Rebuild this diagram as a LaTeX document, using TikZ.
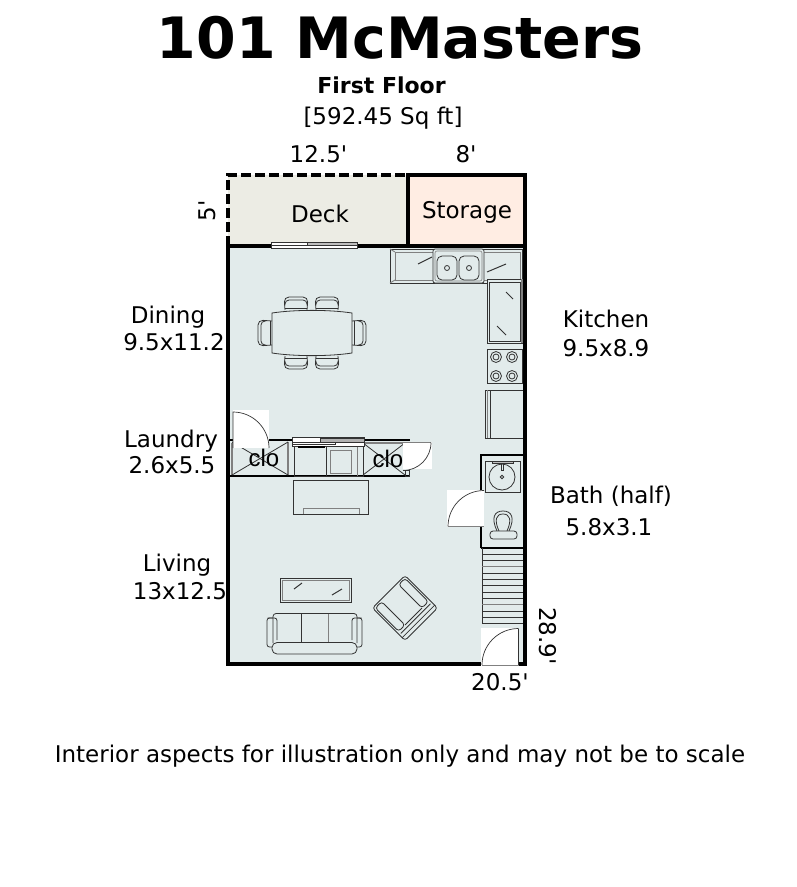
\documentclass[tikz,border=0pt]{standalone}
\usepackage{fontspec}
\setmainfont{DejaVu Sans}[Ligatures=TeXOff]
\newfontfamily\clofont{Liberation Sans}
\definecolor{floorc}{HTML}{E2EBEB}
\definecolor{deckc}{HTML}{ECECE4}
\definecolor{storec}{HTML}{FFEDE3}
\definecolor{furnc}{HTML}{333333}
\tikzset{
  wall/.style={black,line width=3.5pt},
  lwall/.style={black,line width=2.2pt},
  furn/.style={furnc,line width=0.8pt},
  furng/.style={gray,line width=0.9pt},
  glint/.style={furnc,line width=1pt},
  doorfill/.style={fill=white,draw=none},
  doorline/.style={furnc,line width=0.7pt},
  label/.style={font=\fontsize{23}{27}\selectfont,text=black,anchor=base,inner sep=0pt},
  clolabel/.style={font=\clofont\fontsize{24}{28}\selectfont,text=black,anchor=base,inner sep=0pt},
}
\begin{document}
\begin{tikzpicture}[x=1pt,y=-1pt]
\useasboundingbox (0,0) rectangle (796,887);
\fill[white] (0,0) rectangle (796,887);
% rooms
\fill[floorc] (228,246) rectangle (525,664);
\fill[deckc] (228,175) rectangle (408,246);
\fill[storec] (408,175) rectangle (525,246);
\draw[wall,dash pattern=on 10pt off 4pt] (228,246) -- (228,175) -- (408,175);
\draw[wall] (228,246) -- (525,246);
\draw[wall] (408,246) -- (408,175) -- (525,175) -- (525,664) -- (228,664) -- (228,246);
% deck slider
\draw[doorfill] (271,242) rectangle (357,248);
\draw[furn] (271,242) rectangle (357,248);
\draw[furn,fill=gray!50] (307,242.5) rectangle (357,245);
\draw[furn] (271,245) -- (321,245);
% kitchen counters
\draw[furn] (390,249) rectangle (522,283);
\draw[furng] (395,252) -- (520,252) -- (520,280) -- (395,280) -- cycle;
\draw[furng] (390,249) -- (395,252);
\draw[furng] (390,283) -- (395,280);
\draw[furn,rounded corners=2pt,fill=floorc] (433,249) rectangle (484,283);
\draw[furng,line width=0.6pt,rounded corners=2pt] (435,251) rectangle (482,281);
\draw[furn,rounded corners=5pt] (437,256) rectangle (457,280);
\draw[furn,rounded corners=5pt] (459,256) rectangle (479,280);
\draw[furn] (447,268) circle (2.5);
\draw[furn] (469,268) circle (2.5);
\draw[glint] (418,264) -- (432,257);
\draw[glint] (487,272) -- (506,264);
\draw[furn,fill=floorc] (487,279) rectangle (522,343);
\draw[furn] (489,282) rectangle (520,341);
\draw[furng,line width=1.5pt] (522,279) -- (522,343);
\draw[glint] (506,292) -- (513,299);
\draw[glint] (497,326) -- (506,335);
% stove
\draw[furn] (487,349) rectangle (522,383);
\draw[furn] (496,357) circle (5.5);
\draw[furn] (496,357) circle (3);
\draw[furn] (512,357) circle (5.5);
\draw[furn] (512,357) circle (3);
\draw[furn] (496,376) circle (5.5);
\draw[furn] (496,376) circle (3);
\draw[furn] (512,376) circle (5.5);
\draw[furn] (512,376) circle (3);
% fridge
\draw[furn] (523,390) -- (485,390) -- (485,438) -- (523,438);
\draw[furn] (490,390) -- (490,438);
\draw[furng] (487,390) -- (487,438);
% dining table
\draw[furn] (272,313) .. controls (295,309.5) and (329,309.5) .. (352,313) -- (352,353) .. controls (329,356.5) and (295,356.5) .. (272,353) -- cycle;
% chairs
\draw[furn,rounded corners=5pt] (285,310) -- (284,297) -- (308,297) -- (307,310);
\draw[furn,rounded corners=4pt] (285,305) -- (285,300) -- (307,300) -- (307,305);
\draw[furn] (285,308) -- (307,308);
\draw[furn,rounded corners=5pt] (316,310) -- (315,297) -- (339,297) -- (338,310);
\draw[furn,rounded corners=4pt] (316,305) -- (316,300) -- (338,300) -- (338,305);
\draw[furn] (316,308) -- (338,308);
\draw[furn,rounded corners=5pt] (285,356) -- (284,369) -- (308,369) -- (307,356);
\draw[furn,rounded corners=4pt] (285,361) -- (285,366) -- (307,366) -- (307,361);
\draw[furn] (285,358) -- (307,358);
\draw[furn,rounded corners=5pt] (316,356) -- (315,369) -- (339,369) -- (338,356);
\draw[furn,rounded corners=4pt] (316,361) -- (316,366) -- (338,366) -- (338,361);
\draw[furn] (316,358) -- (338,358);
\draw[furn,rounded corners=5pt] (272,321) -- (258,320) -- (258,346) -- (272,345);
\draw[furn,rounded corners=4pt] (266,321) -- (261,321) -- (261,345) -- (266,345);
\draw[furn] (270,321) -- (270,345);
\draw[furn,rounded corners=5pt] (352,321) -- (366,320) -- (366,346) -- (352,345);
\draw[furn,rounded corners=4pt] (358,321) -- (363,321) -- (363,345) -- (358,345);
\draw[furn] (354,321) -- (354,345);
% laundry and closets
\draw[lwall] (230,440) -- (292,440);
\draw[lwall] (364,440) -- (410,440);
\draw[lwall] (230,476) -- (410,476);
\draw[furng,line width=1.5pt] (232,443) -- (232,475);
\draw[furng,line width=1.5pt] (288,442) -- (288,475);
\draw[furng,line width=1.5pt] (364,443) -- (408,443);
\draw[furn] (232,475) -- (288,442);
\draw[furn] (232,442) -- (288,475);
\draw[furn] (363,475) -- (405,443);
\draw[furn] (363,443) -- (405,475);
\draw[furn] (294,445) rectangle (326,476);
\draw[furn] (326,445) rectangle (363,476);
\draw[furng] (330,450) rectangle (351,473);
\draw[furng] (357,445) -- (357,476);
\draw[furn] (405,470) rectangle (409,476);
\draw[doorfill] (292,437) rectangle (364,446);
\draw[furn] (292,437) rectangle (364,446);
\draw[furn,fill=gray!60] (320,438) rectangle (364,442);
\draw[furn] (292,442) -- (335,442) -- (335,444) -- (292,444);
\draw[black,line width=1.5pt] (298,447) -- (325,447);
% tv unit
\draw[furn] (293,480) rectangle (368,514);
\draw[furng] (303,514) -- (303,508) -- (359,508) -- (359,514);
% bath
\draw[wall,line width=2.5pt] (481,548) -- (481,455) -- (525,455);
\draw[wall,line width=2.5pt] (481,548) -- (525,548);
\draw[furn] (485,461) rectangle (520,492);
\draw[furn] (502,477) circle (13);
\draw[furn] (502,477) circle (1.8);
\draw[furn,fill=gray!50] (492,461) rectangle (513,463);
\draw[furn] (501,463) rectangle (503,470);
\draw[furn] (497,531) .. controls (491,518) and (494,511) .. (503,511) .. controls (512,511) and (515,518) .. (509,531);
\draw[furn] (499,531) .. controls (494,520) and (496,514) .. (503,514) .. controls (510,514) and (512,520) .. (507,531);
\draw[furn,rounded corners=3pt,fill=floorc] (490,531) rectangle (517,539);
% stairs
\draw[furn] (482,548) -- (482,624);
\draw[furn] (482,554.3) -- (523,554.3);
\draw[furn] (482,560.6) -- (523,560.6);
\draw[furng] (482,566.9) -- (523,566.9);
\draw[furn] (482,573.2) -- (523,573.2);
\draw[furn] (482,579.5) -- (523,579.5);
\draw[furn] (482,585.8) -- (523,585.8);
\draw[furn] (482,592.1) -- (523,592.1);
\draw[furn] (482,598.4) -- (523,598.4);
\draw[furng] (482,604.7) -- (523,604.7);
\draw[furn] (482,611) -- (523,611);
\draw[furn] (482,617.3) -- (523,617.3);
\draw[furn] (482,623.6) -- (523,623.6);
% coffee table
\draw[furn] (280,578) rectangle (351,602);
\draw[furng] (282,580) rectangle (349,600.5);
\draw[glint] (294,589) -- (302,583);
\draw[glint] (332,595) -- (342,589);
% sofa
\draw[furn,rounded corners=3pt] (273,643) -- (273,613.5) -- (357,613.5) -- (357,643);
\draw[furn] (301.5,613.5) -- (301.5,642);
\draw[furng] (328,613.5) -- (328,642);
\draw[furn,rounded corners=2.5pt] (273,618) -- (267,618) -- (267,647) -- (273,647);
\draw[furn,rounded corners=2.5pt] (277,640) -- (277,618) -- (267.5,618);
\draw[furn,rounded corners=2.5pt] (357,618) -- (362,618) -- (362,647) -- (357,647);
\draw[furn,rounded corners=2.5pt] (352,640) -- (352,618) -- (361.5,618);
\draw[furn,rounded corners=5pt,fill=floorc] (272,642.5) rectangle (357,654);
% armchair
\begin{scope}[shift={(405,608)},rotate=-45]
\draw[furn,rounded corners=3pt] (-23,-23) rectangle (23,23);
\draw[furn] (19,-23) -- (19,23);
\draw[furn,rounded corners=3pt] (-21,-21) -- (12,-21) -- (12,-12) -- (-21,-12) -- cycle;
\draw[furn,rounded corners=3pt] (-21,21) -- (12,21) -- (12,12) -- (-21,12) -- cycle;
\draw[furn] (12,-12) -- (12,12);
\draw[furn] (15,-21) -- (15,21);
\end{scope}
% doors
\fill[white] (233,410) rectangle (269,448);
\draw[doorline] (233,448) -- (233,412) arc[start angle=-90,end angle=0,radius=36];
\fill[white] (403,442) rectangle (432,469);
\draw[doorline,gray] (403,442.5) -- (431,442.5);
\draw[doorline] (431,442.5) arc[start angle=0,end angle=90,radius=28];
\fill[white] (447,490) rectangle (484,527);
\draw[doorline] (484,490.5) arc[start angle=-90,end angle=-180,radius=36];
\draw[doorline,gray] (448,526.5) -- (484,526.5);
\fill[white] (481,628) rectangle (518,666);
\draw[doorline] (518.5,628.5) arc[start angle=-90,end angle=-180,radius=36.5];
\draw[doorline] (518.5,628.5) -- (518.5,665);
\draw[doorline,gray] (482,665.5) -- (518.5,665.5);
% labels
\node[label,font=\bfseries\fontsize{57}{60}\selectfont] (title) at (400,58) {101 McMasters};
\node[label,font=\bfseries\fontsize{22}{26}\selectfont] (floorname) at (381.5,93) {First Floor};
\node[label] (area) at (383,124) {[592.45 Sq ft]};
\node[label] (widthdeck) at (318.5,162) {12.5'};
\node[label] (widthstore) at (466,162) {8'};
\node[label,rotate=90] (depthdeck) at (215,211) {5'};
\node[label] (deck) at (320,222) {Deck};
\node[label] (storage) at (467,218) {Storage};
\node[label] (dining) at (168,323) {Dining};
\node[label] (diningsize) at (174,350) {9.5x11.2};
\node[label] (kitchen) at (606,327) {Kitchen};
\node[label] (kitchensize) at (606,356) {9.5x8.9};
\node[label] (laundry) at (171,447) {Laundry};
\node[label] (laundrysize) at (172,473) {2.6x5.5};
\node[clolabel] (cloleft) at (264,466) {clo};
\node[clolabel] (cloright) at (388,467) {clo};
\node[label] (bath) at (611,503) {Bath (half)};
\node[label] (bathsize) at (609,535) {5.8x3.1};
\node[label] (living) at (177,571) {Living};
\node[label] (livingsize) at (180,599) {13x12.5};
\node[label,rotate=-90] (totaldepth) at (539,636) {28.9'};
\node[label] (totalwidth) at (500,690) {20.5'};
\node[label] (note) at (400,762) {Interior aspects for illustration only and may not be to scale};
\end{tikzpicture}
\end{document}
